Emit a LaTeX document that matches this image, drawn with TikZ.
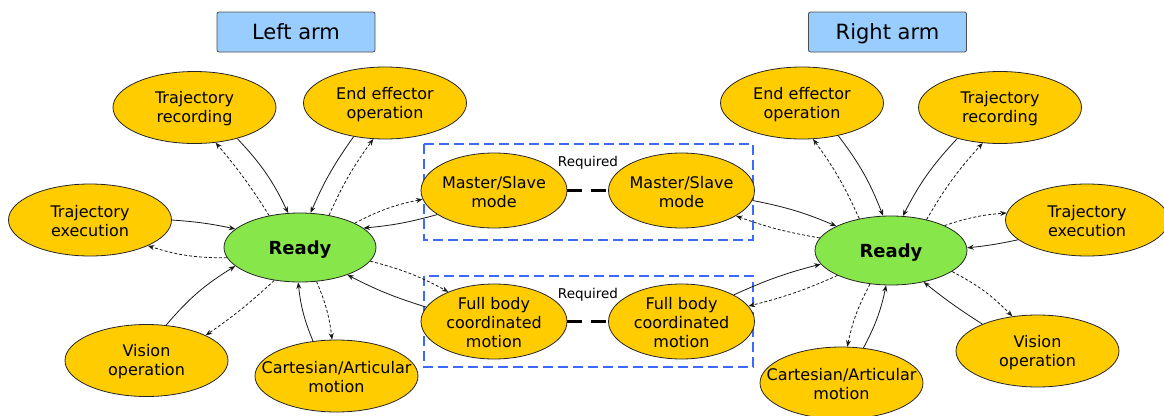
\documentclass[tikz,border=0pt]{standalone}
\usepackage{fontspec}
\setmainfont{DejaVu Sans}
\usetikzlibrary{shapes.geometric,arrows.meta}
\definecolor{stategold}{RGB}{255,204,0}
\definecolor{readygreen}{RGB}{135,230,74}
\definecolor{armblue}{RGB}{153,204,255}
\definecolor{groupblue}{RGB}{60,105,255}
\begin{document}
\begin{tikzpicture}[x=1pt,y=-1pt,
  state/.style={ellipse, draw=black!85, line width=0.8pt, fill=stategold,
    minimum width=163pt, minimum height=72pt, inner sep=0pt},
  modestate/.style={state, minimum width=146pt, minimum height=75pt},
  statetext/.style={font=\fontsize{16}{19}\selectfont, align=center, inner sep=0pt,
    yshift=-1.5pt},
  ready/.style={ellipse, draw=black!85, line width=0.8pt, fill=readygreen,
    minimum width=152pt, minimum height=69pt, inner sep=0pt,
    text height=13.1pt, text depth=0pt,
    font=\fontsize{18}{21}\selectfont\bfseries},
  armbox/.style={rectangle, rounded corners=2pt, draw=black!70, line width=0.8pt,
    fill=armblue, minimum width=158pt, minimum height=40pt,
    text height=15.3pt, text depth=0pt,
    font=\fontsize{21}{25}\selectfont},
  groupbox/.style={draw=groupblue, line width=1.6pt, dash pattern=on 10pt off 5pt},
  reqtext/.style={font=\fontsize{13.5}{16}\selectfont, inner sep=0pt},
  reqlink/.style={line width=3pt, dash pattern=on 15pt off 9pt},
  solidflow/.style={-{Stealth[length=6.5pt,width=5pt]}, line width=0.8pt, black!90},
  dashflow/.style={solidflow, dash pattern=on 3pt off 2pt}
]
\clip (0,0) rectangle (1164,415);

% arm titles
\node[armbox] (leftarm) at (296,32) {Left arm};
\node[armbox] (rightarm) at (887.5,32) {Right arm};

% groups of coordinated modes
\draw[groupbox] (424,144) rectangle (753,240);
\draw[groupbox] (424,276) rectangle (753,367);

% left arm states
\node[ready] (lready) at (300,247.5) {Ready};
\node[state, label={[statetext]center:Trajectory\\recording}] (ltr) at (194.5,107.5) {};
\node[state, label={[statetext]center:End effector\\operation}] (lee) at (385,103) {};
\node[state, label={[statetext]center:Trajectory\\execution}] (lte) at (90,220) {};
\node[state, label={[statetext]center:Vision\\operation}] (lvis) at (146.5,360.5) {};
\node[state, label={[statetext]center:Cartesian/Articular\\motion}] (lcart) at (336.5,376) {};
\node[modestate, label={[statetext]center:Master/Slave\\mode}] (lms) at (494,190.5) {};
\node[modestate, label={[statetext]center:Full body\\coordinated\\motion}] (lfb) at (494,321.5) {};

% right arm states
\node[ready] (rready) at (891,250.5) {Ready};
\node[state, label={[statetext]center:End effector\\operation}] (ree) at (802,103) {};
\node[state, label={[statetext]center:Trajectory\\recording}] (rtr) at (1000,107.5) {};
\node[state, label={[statetext]center:Trajectory\\execution}] (rte) at (1087,220) {};
\node[state, label={[statetext]center:Vision\\operation}] (rvis) at (1037.5,351) {};
\node[state, label={[statetext]center:Cartesian/Articular\\motion}] (rcart) at (841.5,383) {};
\node[modestate, label={[statetext]center:Master/Slave\\mode}] (rms) at (681.5,190.5) {};
\node[modestate, label={[statetext]center:Full body\\coordinated\\motion}] (rfb) at (681.5,321.5) {};

% "Required" links between the two arms
\draw[reqlink] (lms.east) -- (rms.west);
\draw[reqlink] (lfb.east) -- (rfb.west);
\node[reqtext] (reqtop) at (588,163) {Required};
\node[reqtext] (reqbottom) at (588,295) {Required};

% left arm transitions
\draw[solidflow] (ltr.324) to[bend left=9] (lready.109);
\draw[dashflow] (lready.134) to[bend right=4] (ltr.301);
\draw[solidflow] (lee.227) to[bend right=6] (lready.73);
\draw[dashflow] (lready.48) to[bend left=6] (lee.252);
\draw[dashflow] (lready.24) to[bend left=8] (lms.187);
\draw[solidflow] (lms.203) to[bend left=5] (lready.17);
\draw[solidflow] (lte.0) to[bend left=4] (lready.164);
\draw[dashflow] (lready.188) to[bend left=9] (lte.336);
\draw[solidflow] (lvis.61) to[bend left=9] (lready.196);
\draw[dashflow] (lready.232) to[bend left=4] (lvis.23);
\draw[solidflow] (lcart.124) to[bend left=8] (lready.267);
\draw[dashflow] (lready.296) to[bend left=8] (lcart.97);
\draw[dashflow] (lready.349) to[bend left=7] (lfb.147);
\draw[solidflow] (lfb.168) to[bend left=5] (lready.330);

% right arm transitions
\draw[solidflow] (ree.318) to[bend left=8] (rready.103);
\draw[dashflow] (rready.135) to[bend right=6] (ree.287);
\draw[solidflow] (rtr.216) to[bend right=8] (rready.71);
\draw[dashflow] (rready.41) to[bend left=6] (rtr.244);
\draw[dashflow] (rready.25) to[bend left=7] (rte.175);
\draw[solidflow] (rte.196) to[bend left=3] (rready.2);
\draw[dashflow] (rready.341) to[bend left=9] (rvis.126);
\draw[solidflow] (rvis.154) to[bend left=3] (rready.316);
\draw[dashflow] (rready.238) to[bend right=8] (rcart.81);
\draw[solidflow] (rcart.58) to[bend right=8] (rready.262);
\draw[solidflow] (rms.352) to[bend left=6] (rready.156);
\draw[dashflow] (rready.170) to[bend left=5] (rms.335);
\draw[solidflow] (rfb.27) to[bend left=5] (rready.191);
\draw[dashflow] (rready.205) to[bend left=5] (rfb.13);
\end{tikzpicture}
\end{document}
